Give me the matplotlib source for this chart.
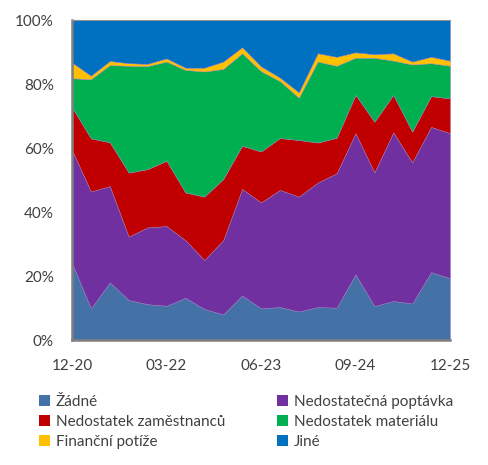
import matplotlib.pyplot as plt
from matplotlib.patches import Patch
import numpy as np

quarters = ["12-20", "03-21", "06-21", "09-21", "12-21", "03-22", "06-22",
            "09-22", "12-22", "03-23", "06-23", "09-23", "12-23", "03-24",
            "06-24", "09-24", "12-24", "03-25", "06-25", "09-25", "12-25"]

zadne = [24.0, 9.9, 18.0, 12.5, 11.2, 10.7, 13.2, 9.7, 8.0, 13.9, 9.9,
         10.3, 8.9, 10.3, 10.1, 20.5, 10.6, 12.2, 11.4, 21.2, 19.3]
poptavka = [35.4, 36.5, 30.1, 19.8, 24.0, 24.9, 18.0, 15.3, 23.2, 33.3, 33.1,
            36.6, 35.9, 38.9, 42.0, 44.1, 41.8, 52.7, 44.1, 45.4, 45.3]
zamestnanci = [13.3, 16.6, 13.7, 20.0, 18.2, 20.4, 14.9, 19.8, 19.1, 13.5, 15.9,
               16.2, 17.7, 12.5, 11.1, 12.0, 15.8, 11.7, 9.6, 9.6, 10.9]
material = [9.1, 18.5, 24.1, 33.4, 32.2, 31.0, 38.3, 39.1, 34.4, 28.9, 25.1,
            17.8, 13.2, 25.3, 22.5, 11.6, 20.0, 10.7, 21.0, 10.3, 10.2]
financni = [4.9, 1.1, 1.3, 0.8, 0.7, 1.0, 0.7, 1.2, 2.3, 1.9, 1.5,
            1.1, 1.7, 2.6, 2.8, 1.7, 1.1, 2.3, 0.9, 2.0, 1.6]
jine = [13.3, 17.4, 12.8, 13.5, 13.7, 12.0, 14.9, 14.9, 13.0, 8.5, 14.5,
        18.0, 22.6, 10.4, 11.5, 10.1, 10.7, 10.4, 13.0, 11.5, 12.7]

labels = ["Žádné", "Nedostatečná poptávka", "Nedostatek zaměstnanců",
          "Nedostatek materiálu", "Finanční potíže", "Jiné"]
colors = ["#4472A6", "#7030A0", "#C00000", "#00B050", "#FFC000", "#0070C0"]

plt.rcParams["font.family"] = ["Lato", "DejaVu Sans"]
text_color = "#404040"
fsize = 11

fig = plt.figure(figsize=(4.89, 4.65), dpi=100)
ax = fig.add_axes([72 / 489, 125 / 465, 378 / 489, 320 / 465])

x = np.arange(len(quarters))
ax.stackplot(x, zadne, poptavka, zamestnanci, material, financni, jine,
             colors=colors, linewidth=0.3, edgecolor="#9a7fbf")

ax.set_xlim(0, len(quarters) - 1)
ax.set_ylim(0, 100)
ax.set_xticks([0, 5, 10, 15, 20])
ax.set_xticklabels([quarters[i] for i in [0, 5, 10, 15, 20]])
ax.set_yticks(range(0, 101, 20))
ax.set_yticklabels([f"{v}%" for v in range(0, 101, 20)])
ax.tick_params(length=0, labelsize=fsize, colors=text_color)
ax.tick_params(axis="x", pad=14)
ax.tick_params(axis="y", pad=13)

for s in ["left", "bottom"]:
    ax.spines[s].set_color("#808080")
    ax.spines[s].set_linewidth(1.8)
ax.spines["top"].set_color("#909090")
ax.spines["top"].set_linewidth(0.8)
ax.spines["right"].set_visible(False)

handles = [Patch(facecolor=c, edgecolor="none") for c in colors]
legend_kw = dict(loc="upper left", frameon=False, fontsize=fsize,
                 labelcolor=text_color, handlelength=0.75, handleheight=0.75,
                 handletextpad=0.35, labelspacing=0.4, borderpad=0,
                 borderaxespad=0)
fig.legend([handles[i] for i in [0, 2, 4]], [labels[i] for i in [0, 2, 4]],
           bbox_to_anchor=(39 / 489, 1 - 395 / 465), **legend_kw)
fig.legend([handles[i] for i in [1, 3, 5]], [labels[i] for i in [1, 3, 5]],
           bbox_to_anchor=(277 / 489, 1 - 395 / 465), **legend_kw)

fig.savefig("out.png", dpi=100)
